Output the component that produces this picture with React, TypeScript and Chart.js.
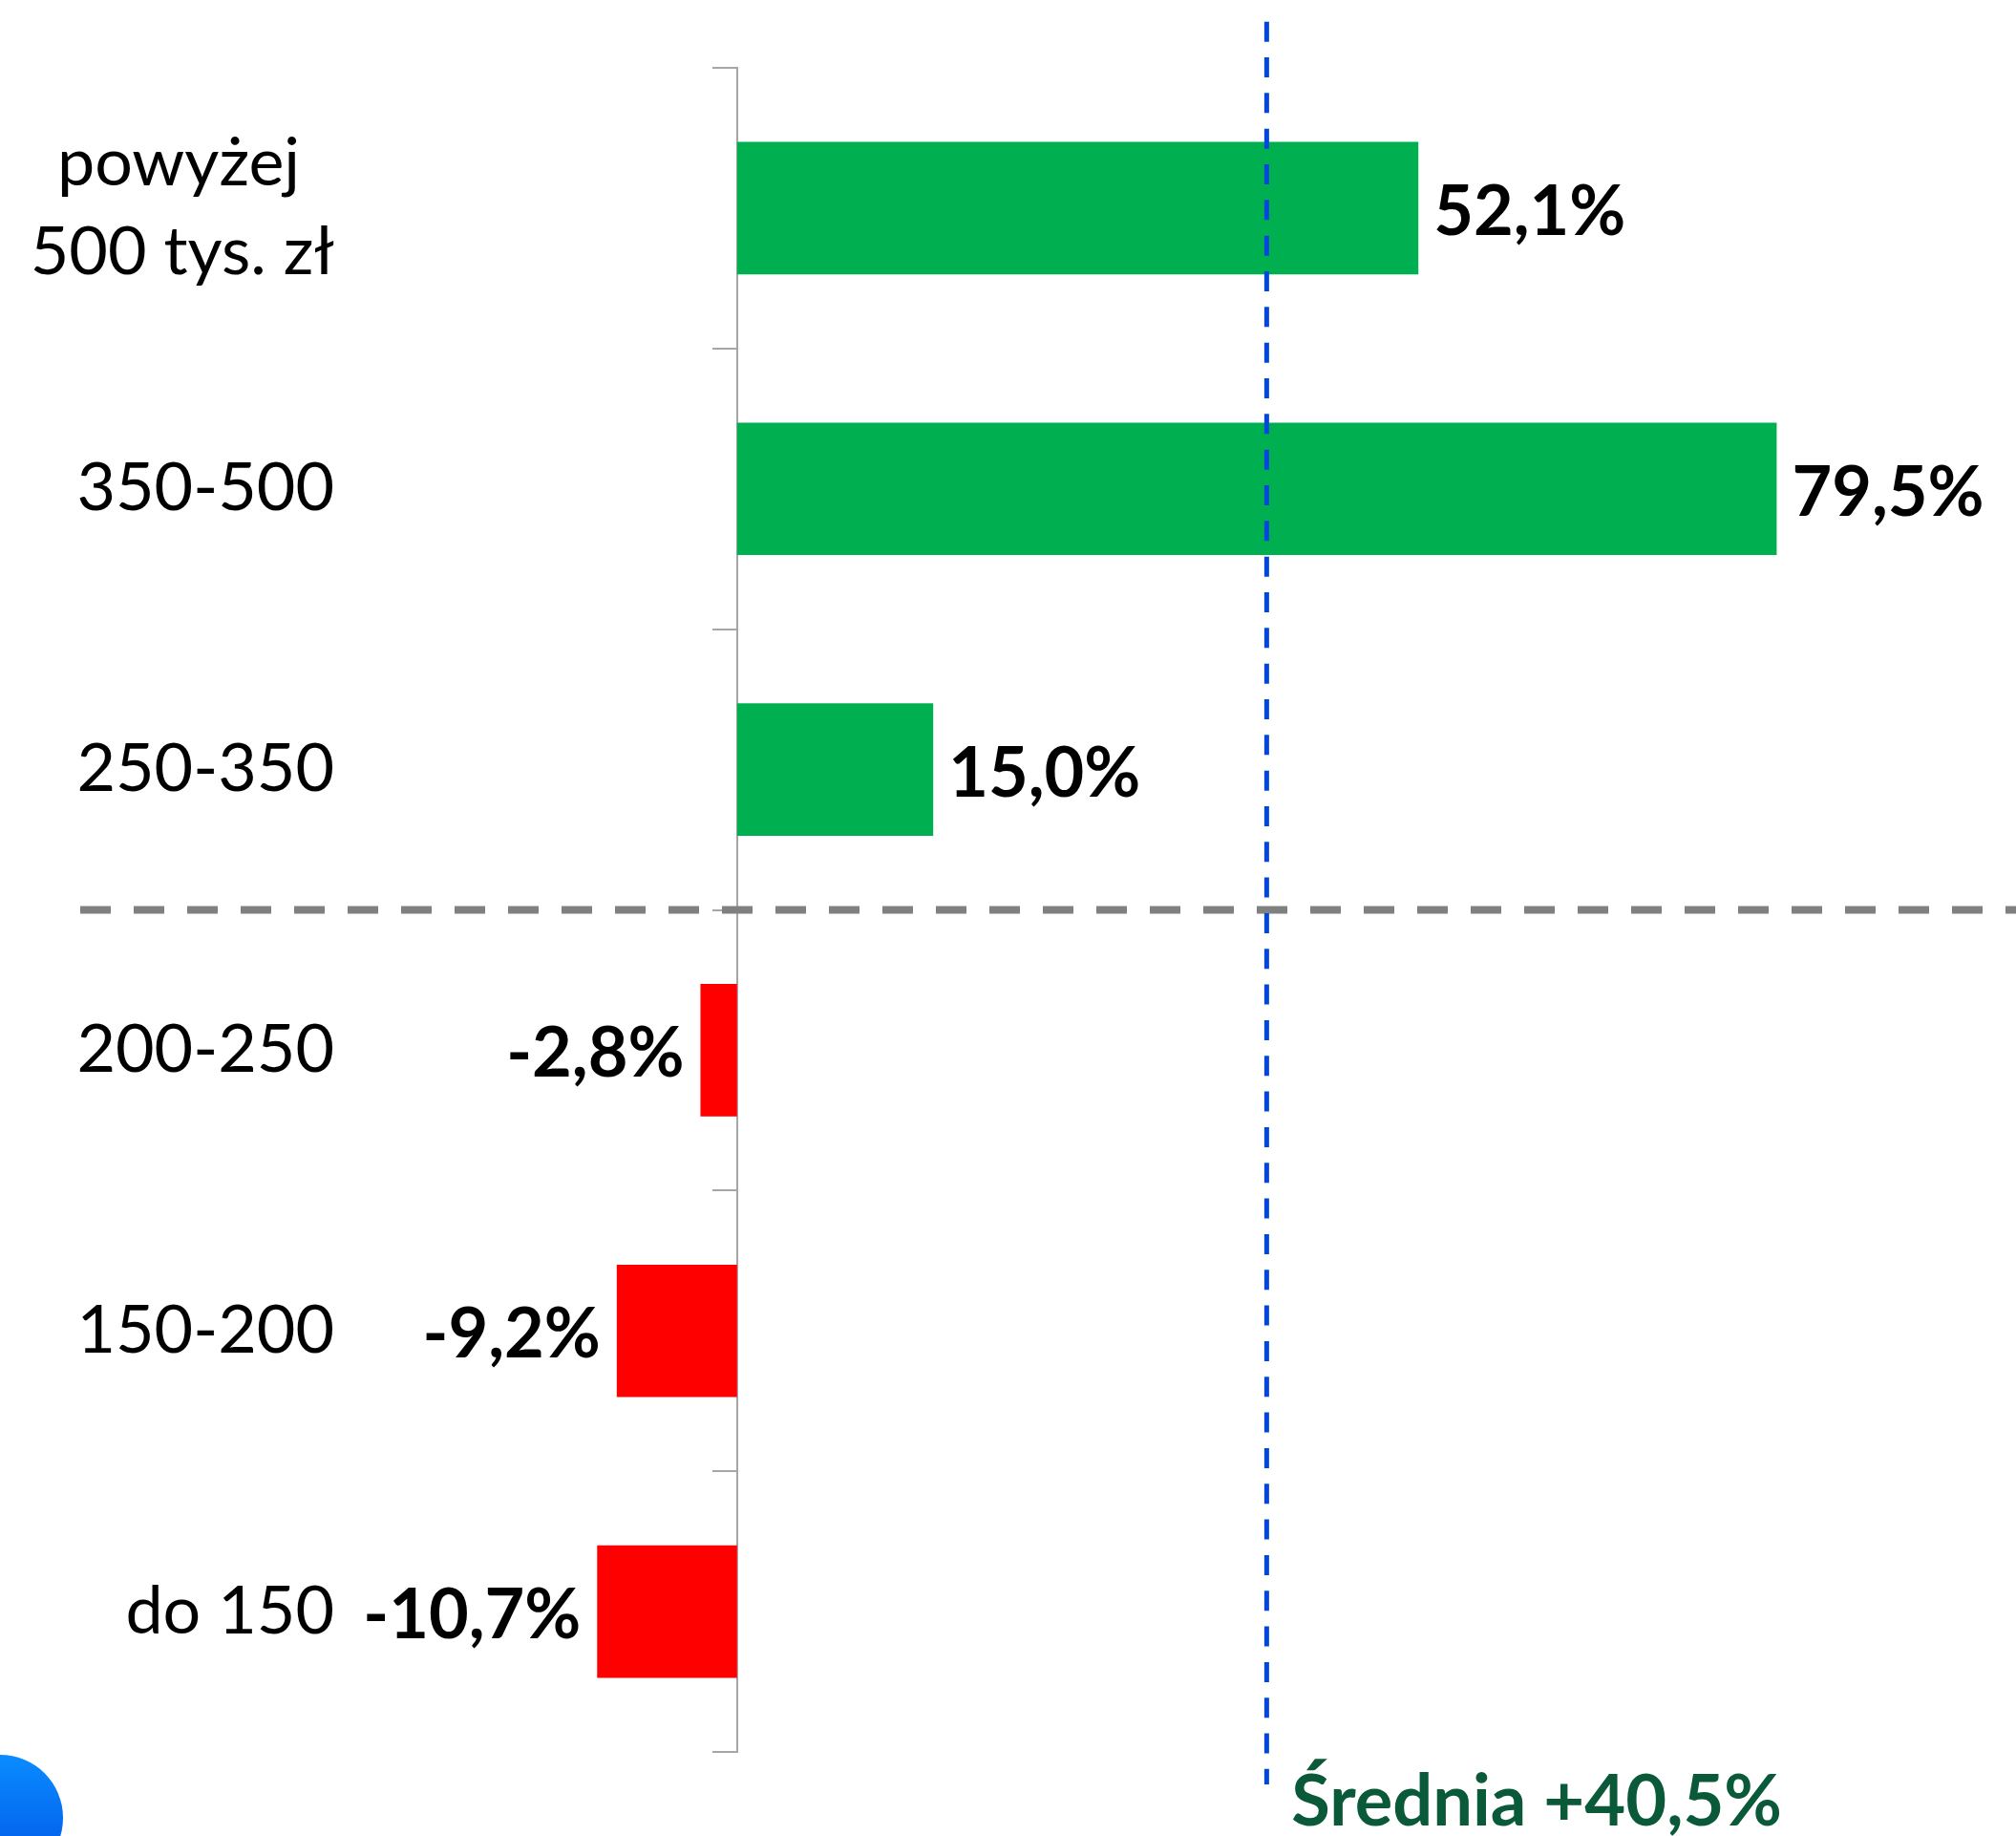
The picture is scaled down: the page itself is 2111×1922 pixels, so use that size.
import React, { useEffect, useRef } from "react";
import { Chart, registerables } from "chart.js";

Chart.register(...registerables);

// ---- data ----
const categories: (string | string[])[] = [
  ["powyżej  ", "500 tys. zł"],
  "350-500",
  "250-350",
  "200-250",
  "150-200",
  "do 150",
];
const values: number[] = [52.1, 79.5, 15.0, -2.8, -9.2, -10.7];
const averageValue = 40.5;
const averageLabel = "Średnia +40,5%";
const dividerAfterIndex = 2; // dashed separator between "250-350" and "200-250"

// ---- styles ----
const GREEN = "#00B050";
const RED = "#FF0000";
const AXIS_GRAY = "#A6A6A6";
const DIVIDER_GRAY = "#808080";
const AVG_BLUE = "#0047DD";
const AVG_TEXT = "#0A5A3A";
const FONT = "Lato, 'Open Sans', sans-serif";
const X_MIN = -23.5;
const X_MAX = 97.8;

function formatPct(v: number): string {
  return v.toFixed(1).replace(".", ",") + "%";
}

const overlayPlugin = {
  id: "overlay",
  afterDatasetsDraw(chart: any) {
    const { ctx, scales } = chart;
    const xs = scales.x;
    const ys = scales.y;
    const W = chart.width;

    // horizontal divider
    const yDiv = (ys.getPixelForTick(dividerAfterIndex) + ys.getPixelForTick(dividerAfterIndex + 1)) / 2;
    ctx.save();
    ctx.strokeStyle = DIVIDER_GRAY;
    ctx.lineWidth = 8;
    ctx.setLineDash([32, 24]);
    ctx.beginPath();
    ctx.moveTo(84, yDiv);
    ctx.lineTo(W, yDiv);
    ctx.stroke();
    ctx.restore();

    // average line
    const xAvg = xs.getPixelForValue(averageValue);
    ctx.save();
    ctx.strokeStyle = AVG_BLUE;
    ctx.lineWidth = 5;
    ctx.setLineDash([21, 16.33]);
    ctx.beginPath();
    ctx.moveTo(xAvg, 22.7);
    ctx.lineTo(xAvg, 1868);
    ctx.stroke();
    ctx.restore();

    // average label
    ctx.save();
    ctx.font = `bold 74px ${FONT}`;
    ctx.fillStyle = AVG_TEXT;
    ctx.textAlign = "left";
    ctx.textBaseline = "alphabetic";
    ctx.fillText(averageLabel, xAvg + 26, 1911);
    ctx.restore();

    // value labels
    const meta = chart.getDatasetMeta(0);
    ctx.save();
    ctx.font = `bold 72px ${FONT}`;
    ctx.fillStyle = "#000000";
    ctx.textBaseline = "alphabetic";
    meta.data.forEach((bar: any, i: number) => {
      const v = values[i];
      const y = bar.y + 28;
      if (v >= 0) {
        ctx.textAlign = "left";
        ctx.fillText(formatPct(v), bar.x + 16, y);
      } else {
        ctx.textAlign = "right";
        ctx.fillText(formatPct(v), bar.x - 17, y);
      }
    });
    ctx.restore();
  },
};

export default function App() {
  const canvasRef = useRef<HTMLCanvasElement | null>(null);

  useEffect(() => {
    const canvas = canvasRef.current;
    if (!canvas) return;
    const chart = new Chart(canvas, {
      type: "bar",
      data: {
        labels: categories,
        datasets: [
          {
            data: values,
            backgroundColor: values.map((v) => (v >= 0 ? GREEN : RED)),
            borderWidth: 0,
            categoryPercentage: 1,
            barPercentage: 0.472,
            yAxisID: "y",
            xAxisID: "x",
          },
        ],
      },
      options: {
        indexAxis: "y",
        responsive: false,
        animation: false,
        devicePixelRatio: 1,
        layout: { padding: { top: 71, bottom: 88, left: 0, right: 0 } },
        plugins: {
          legend: { display: false },
          tooltip: { enabled: false },
          title: { display: false },
        },
        scales: {
          x: {
            type: "linear",
            min: X_MIN,
            max: X_MAX,
            display: false,
          },
          yl: {
            type: "category",
            position: "left",
            offset: true,
            grid: { display: false, drawTicks: false },
            border: { display: false },
            ticks: {
              color: "#000000",
              padding: 100,
              autoSkip: false,
              font: { family: FONT, size: 70, lineHeight: 1.33 },
            },
            afterFit(scale: any) {
              scale.width = 450;
              scale.paddingTop = 0;
              scale.paddingBottom = 0;
            },
          },
          y: {
            type: "category",
            position: { x: 0 },
            offset: true,
            ticks: { display: false },
            grid: {
              display: true,
              offset: true,
              drawOnChartArea: false,
              drawTicks: true,
              tickLength: 25,
              color: AXIS_GRAY,
              lineWidth: 2,
            },
            border: { display: true, color: AXIS_GRAY, width: 2 },
          },
        },
      } as any,
      plugins: [overlayPlugin],
    });
    return () => chart.destroy();
  }, []);

  return (
    <div
      style={{
        position: "fixed",
        left: 0,
        top: 0,
        width: 2111,
        height: 1922,
        overflow: "hidden",
        background: "#ffffff",
      }}
    >
      <canvas ref={canvasRef} width={2111} height={1922} style={{ display: "block" }} />
      <div
        style={{
          position: "absolute",
          left: -66,
          top: 1837,
          width: 132,
          height: 132,
          borderRadius: "50%",
          background: "linear-gradient(to bottom, #0a8cff, #0052e6)",
        }}
      />
    </div>
  );
}
